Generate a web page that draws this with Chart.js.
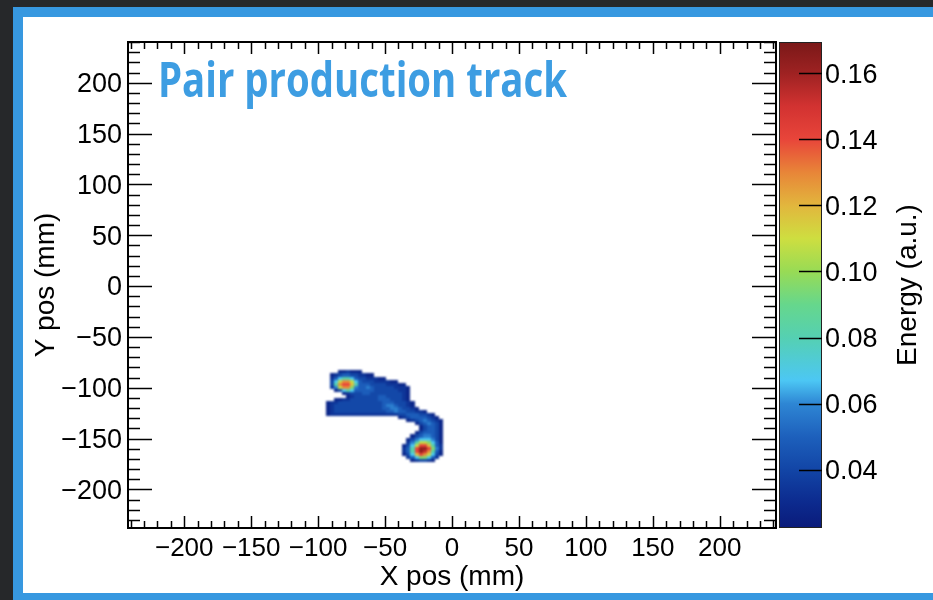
<!DOCTYPE html>
<html>
<head>
<meta charset="utf-8">
<script src="https://cdn.jsdelivr.net/npm/chart.js@4.4.0/dist/chart.umd.min.js"></script>
<style>
  html, body { margin: 0; padding: 0; }
  body { width: 933px; height: 600px; background: #26282a; position: relative; overflow: hidden; }
  #panel {
    position: absolute; left: 13px; top: 7px; right: 0; bottom: 0; background: #fff;
    border-left: 10px solid #3798e0; border-top: 10px solid #3798e0; border-bottom: 7px solid #3798e0;
  }
  #chart { position: absolute; left: 0; top: 0; }
</style>
</head>
<body>
<div id="panel"></div>
<canvas id="chart" width="933" height="600"></canvas>
<script>
// Axis ranges: positions in mm, energy in a.u.
const xRange = [-242, 242]
const yRange = [-238, 240]
const energyRange = [0.0224, 0.1694]
const posMinorStep = 10 // minor tick every 10 mm
const posMajorStep = 50 // labelled tick every 50 mm
const energyStep = 0.02

// Deposited energy per 3 mm cell, first row at the top of the track.
// One character per cell: '.' is empty, otherwise an index into levelEnergy.
const cellSize = 3
const mapLeft = -97 // x of the first column's left edge
const mapTop = -83  // y of the first row's top edge
const mapRows = [
  "....112111.....................",
  "..12344332211..................",
  "..24677643322211...............",
  "..369bb964333222211............",
  "..37bcca7444333322211..........",
  "..259bb854454333332221.........",
  "...1367644444333333221.........",
  ".....12333443333333321.........",
  "......1233333344333321.........",
  "...1122333333344433321.........",
  ".1223333333333344433321........",
  ".1233333333333345543321........",
  ".12333333333333445543321.......",
  ".1233333333333334454433221.....",
  ".122222222222222222334443321...",
  "...................1234444321..",
  ".....................123454321.",
  ".......................1345431.",
  "........................134431.",
  "........................134431.",
  ".......................1344431.",
  "......................13455431.",
  ".....................135666531.",
  ".....................257998641.",
  "....................1369cca742.",
  "....................247ceec852.",
  "....................247cedb741.",
  "....................136acb9631.",
  ".....................24688642..",
  "......................123321..."
]
const levelCodes = '123456789abcde'
const levelEnergy = [0.028, 0.034, 0.041, 0.049, 0.058, 0.068, 0.082, 0.096, 0.108, 0.118, 0.128, 0.140, 0.152, 0.163]

// Colour palette of the energy scale
const paletteEnergy = [0.0224, 0.030, 0.040, 0.050, 0.060, 0.067, 0.080, 0.090, 0.100, 0.110, 0.120, 0.130, 0.140, 0.150, 0.160, 0.1694]
const paletteColours = ['#0a1b7a', '#0c2a8e', '#1245a6', '#1d60bc', '#2e86d4', '#4cc7f4', '#55d0b2', '#66d78c', '#98db55', '#cede40', '#e2b63d', '#e88538', '#e8453a', '#d23231', '#9e2222', '#7a1818']

const cells = []
mapRows.forEach((row, r) => {
    for (let c = 0; c < row.length; c++) {
        const k = levelCodes.indexOf(row[c])
        if (k < 0) continue
        cells.push({ x: mapLeft + cellSize * (c + 0.5), y: mapTop - cellSize * (r + 0.5), v: levelEnergy[k] })
    }
})

function hexToRgb(h) {
    return [1, 3, 5].map(i => parseInt(h.substr(i, 2), 16))
}

/**
 * Colour of an energy value, interpolated along the palette
 */
function energyColour(v) {
    let i = 0
    while (i < paletteEnergy.length - 2 && v > paletteEnergy[i + 1]) i++
    const t = Math.min(1, Math.max(0, (v - paletteEnergy[i]) / (paletteEnergy[i + 1] - paletteEnergy[i])))
    const a = hexToRgb(paletteColours[i]), b = hexToRgb(paletteColours[i + 1])
    return 'rgb(' + a.map((c, j) => Math.round(c + (b[j] - c) * t)).join(',') + ')'
}

function line(ctx, x0, y0, x1, y1) {
    ctx.beginPath()
    ctx.moveTo(x0, y0)
    ctx.lineTo(x1, y1)
    ctx.stroke()
}

const isMajor = v => Math.abs(v % posMajorStep) < 1e-6
const posLabel = v => isMajor(v) ? (v < 0 ? '\u2212' + (-v) : String(v)) : ''

// Paints every cell of the dataset as a filled box on the x/y scales,
// on a scratch canvas first so the map can be softened slightly
const heatCells = {
    id: 'heatCells',
    beforeDatasetsDraw(chart) {
        const { ctx, chartArea: a, scales: { x, y } } = chart
        const layer = document.createElement('canvas')
        layer.width = chart.width
        layer.height = chart.height
        const lctx = layer.getContext('2d')
        chart.data.datasets[0].data.forEach(c => {
            const x0 = Math.round(x.getPixelForValue(c.x - cellSize / 2))
            const x1 = Math.round(x.getPixelForValue(c.x + cellSize / 2))
            const y0 = Math.round(y.getPixelForValue(c.y + cellSize / 2))
            const y1 = Math.round(y.getPixelForValue(c.y - cellSize / 2))
            lctx.fillStyle = energyColour(c.v)
            lctx.fillRect(x0, y0, x1 - x0, y1 - y0)
        })
        ctx.save()
        ctx.beginPath()
        ctx.rect(a.left, a.top, a.width, a.height)
        ctx.clip()
        ctx.filter = 'blur(0.9px)'
        ctx.drawImage(layer, 0, 0)
        ctx.restore()
    }
}

// Inward ticks on all four sides plus the top and right frame lines
const frameTicks = {
    id: 'frameTicks',
    afterDraw(chart) {
        const { ctx, chartArea: a, scales: { x, y } } = chart
        ctx.save()
        ctx.strokeStyle = '#000'
        ctx.lineWidth = 1.5
        x.ticks.forEach(t => {
            const px = Math.round(x.getPixelForValue(t.value)) + 0.5
            const len = isMajor(t.value) ? 12 : 7
            line(ctx, px, a.bottom, px, a.bottom - len)
            line(ctx, px, a.top, px, a.top + len)
        })
        y.ticks.forEach(t => {
            const py = Math.round(y.getPixelForValue(t.value)) + 0.5
            const len = isMajor(t.value) ? 24 : 12
            line(ctx, a.left, py, a.left + len, py)
            line(ctx, a.right, py, a.right - len, py)
        })
        ctx.lineWidth = 2
        line(ctx, a.left, a.top, a.right + 1, a.top)
        line(ctx, a.right, a.top, a.right, a.bottom)
        ctx.restore()
    }
}

// Energy colour bar drawn against the z scale
const colourBar = {
    id: 'colourBar',
    afterDraw(chart) {
        const { ctx, chartArea: a } = chart
        const z = chart.scales.z
        const left = z.left + 3, right = z.left + 46
        const top = z.getPixelForValue(energyRange[1]), bottom = z.getPixelForValue(energyRange[0])
        ctx.save()
        const grad = ctx.createLinearGradient(0, bottom, 0, top)
        paletteEnergy.forEach((v, i) => {
            grad.addColorStop((v - energyRange[0]) / (energyRange[1] - energyRange[0]), paletteColours[i])
        })
        ctx.fillStyle = grad
        ctx.fillRect(left, top, right - left, bottom - top)
        ctx.strokeStyle = '#222'
        ctx.lineWidth = 1
        ctx.strokeRect(left + 0.5, top + 0.5, right - left - 1, bottom - top - 1)
        ctx.strokeStyle = '#000'
        ctx.lineWidth = 1.5
        z.ticks.forEach(t => {
            const py = Math.round(z.getPixelForValue(t.value)) + 0.5
            line(ctx, right - 23, py, right, py)
        })
        ctx.fillStyle = '#000'
        ctx.font = "28px 'Liberation Sans', Arial, sans-serif"
        ctx.textAlign = 'center'
        ctx.textBaseline = 'middle'
        ctx.translate(z.left + 132, (a.top + a.bottom) / 2)
        ctx.rotate(-Math.PI / 2)
        ctx.fillText('Energy (a.u.)', 0, 0)
        ctx.restore()
    }
}

const plotTitle = {
    id: 'plotTitle',
    afterDraw(chart) {
        const { ctx, chartArea: a } = chart
        ctx.save()
        ctx.fillStyle = '#3d9de2'
        ctx.font = "bold 49px 'Open Sans', sans-serif"
        ctx.textBaseline = 'alphabetic'
        ctx.fillText('Pair production track', a.left + 30, a.top + 55, 409)
        ctx.restore()
    }
}

Chart.defaults.font.family = "'Liberation Sans', Arial, sans-serif"
Chart.defaults.color = '#000'

const chart = new Chart(document.getElementById('chart'), {
    type: 'scatter',
    data: {
        datasets: [{
            label: 'Energy',
            data: cells,
            pointRadius: 0,
            pointHoverRadius: 0
        }]
    },
    options: {
        responsive: false,
        animation: false,
        devicePixelRatio: 1,
        layout: { padding: { top: 42, left: 0, right: 0, bottom: 0 } },
        plugins: {
            legend: { display: false },
            tooltip: { enabled: false }
        },
        scales: {
            x: {
                type: 'linear',
                position: 'bottom',
                min: xRange[0],
                max: xRange[1],
                grid: { display: false, drawTicks: false },
                border: { display: true, color: '#000', width: 2 },
                ticks: {
                    stepSize: posMinorStep,
                    includeBounds: false,
                    autoSkip: false,
                    maxRotation: 0,
                    minRotation: 0,
                    padding: 5,
                    font: { size: 26 },
                    callback: v => posLabel(v)
                },
                title: { display: true, text: 'X pos (mm)', font: { size: 28 }, padding: { top: 0, bottom: 6 } },
                afterFit: scale => { scale.height = 72 }
            },
            y: {
                type: 'linear',
                position: 'left',
                min: yRange[0],
                max: yRange[1],
                grid: { display: false, drawTicks: false },
                border: { display: true, color: '#000', width: 2 },
                ticks: {
                    stepSize: posMinorStep,
                    includeBounds: false,
                    autoSkip: false,
                    padding: 6,
                    labelOffset: 2,
                    font: { size: 27 },
                    callback: v => posLabel(v)
                },
                title: { display: true, text: 'Y pos (mm)', font: { size: 28 }, padding: { top: 29, bottom: 0 } },
                afterFit: scale => { scale.width = 128 }
            },
            z: {
                type: 'linear',
                position: 'right',
                min: energyRange[0],
                max: energyRange[1],
                // tick marks are hidden; their length only sets the label offset past the bar
                grid: { display: false, drawTicks: true, tickLength: 46 },
                border: { display: false },
                ticks: {
                    stepSize: energyStep,
                    includeBounds: false,
                    padding: 3,
                    labelOffset: 2,
                    font: { size: 27 },
                    callback: v => v.toFixed(2)
                },
                afterFit: scale => { scale.width = 157 }
            }
        }
    },
    plugins: [heatCells, frameTicks, colourBar, plotTitle]
})
</script>
</body>
</html>
